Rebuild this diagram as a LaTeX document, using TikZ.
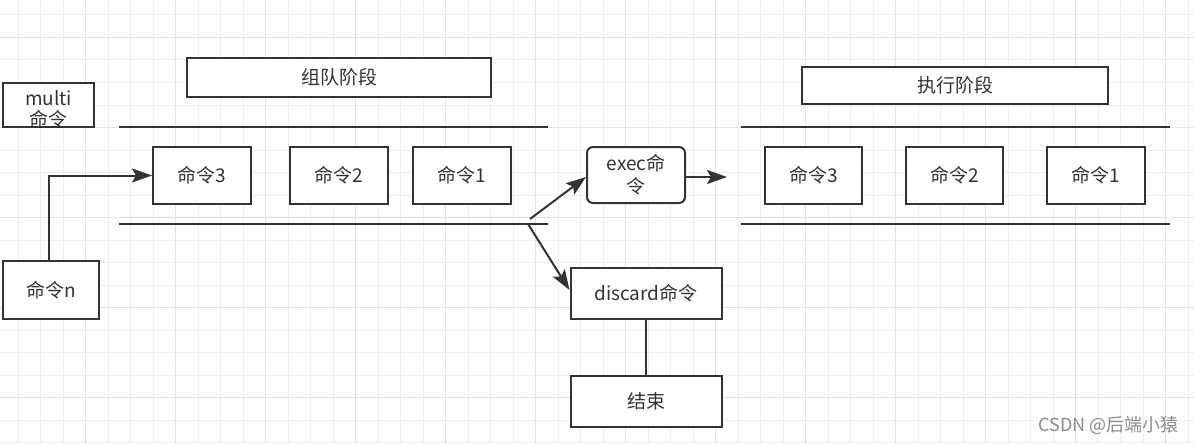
\documentclass[tikz,border=0pt]{standalone}
\usepackage{fontspec}
\setmainfont{Noto Sans CJK SC}
\usetikzlibrary{arrows.meta}
\definecolor{ink}{HTML}{333333}
\definecolor{gminor}{HTML}{F0F0F0}
\definecolor{gmajor}{HTML}{E3E3E3}
\definecolor{wm}{HTML}{8C8C8C}
\tikzset{
  gridminor/.style={draw=gminor, line width=1pt},
  gridmajor/.style={draw=gmajor, line width=1.3pt},
  box/.style={draw=ink, line width=2pt, fill=white, text=ink, inner sep=0pt, align=center, font=\fontsize{19}{22}\selectfont},
  rbox/.style={box, rounded corners=6pt},
  bar/.style={draw=ink, line width=2pt},
  arr/.style={draw=ink, line width=2pt, -{Stealth[length=20pt,width=14pt,inset=4pt]}},
  plain/.style={draw=ink, line width=2pt},
}
\begin{document}
\begin{tikzpicture}[x=1pt,y=-1pt]
\useasboundingbox (0,0) rectangle (1194,444);
\fill[white] (0,0) rectangle (1194,444);
% grid
\foreach \i in {0,...,54} { \draw[gridminor] ({-4.5+22.5*\i},0) -- ({-4.5+22.5*\i},444); }
\foreach \j in {0,...,20} { \draw[gridminor] (0,{-7.5+22.5*\j}) -- (1194,{-7.5+22.5*\j}); }
\foreach \i in {1,...,13} { \draw[gridmajor] ({-4.5+90*\i},0) -- ({-4.5+90*\i},444); }
\foreach \j in {0,...,4} { \draw[gridmajor] (0,{37.5+90*\j}) -- (1194,{37.5+90*\j}); }

% phase bars
\coordinate (lt1) at (119,127); \coordinate (lt2) at (548,127);
\coordinate (lb1) at (119,224); \coordinate (lb2) at (548,224);
\coordinate (rt1) at (741,127); \coordinate (rt2) at (1170,127);
\coordinate (rb1) at (741,224); \coordinate (rb2) at (1170,224);
\draw[bar] (lt1) -- (lt2);
\draw[bar] (lb1) -- (lb2);
\draw[bar] (rt1) -- (rt2);
\draw[bar] (rb1) -- (rb2);

% multi box: text is cut by the bottom edge as in the reference
\fill[white] (3,83) rectangle (94,127);
\begin{scope}
\clip (3,83) rectangle (94,127);
\node[text=ink, inner sep=0pt, align=center, font=\fontsize{19}{21}\selectfont] (multitxt) at (48.5,109) {multi\\命令};
\end{scope}
\node[draw=ink, line width=2pt, minimum width=91pt, minimum height=44pt, inner sep=0pt] (multi) at (48.5,105) {};

\node[box, minimum width=304pt, minimum height=39pt] (zd) at (339,77.5) {组队阶段};
\node[box, minimum width=306pt, minimum height=37pt] (zx) at (955,85.5) {执行阶段};

\node[box, minimum width=98pt, minimum height=57pt] (l3) at (202,175.5) {命令3};
\node[box, minimum width=98pt, minimum height=57pt] (l2) at (339,175.5) {命令2};
\node[box, minimum width=98pt, minimum height=57pt] (l1) at (462,175.5) {命令1};

\node[box, minimum width=96pt, minimum height=58pt] (cn) at (51,290) {命令n};

\node[rbox, minimum width=98pt, minimum height=56pt, font=\fontsize{19}{23}\selectfont] (exec) at (636,175) {exec命\\令};

\node[box, minimum width=97pt, minimum height=57pt] (r3) at (813.5,175.5) {命令3};
\node[box, minimum width=97pt, minimum height=57pt] (r2) at (954.5,175.5) {命令2};
\node[box, minimum width=98pt, minimum height=57pt] (r1) at (1096,175.5) {命令1};

\node[box, minimum width=151pt, minimum height=51pt] (disc) at (646,293.5) {discard命令};
\node[box, minimum width=151pt, minimum height=51pt] (end) at (646,401.5) {结束};

% connectors
\coordinate (s1) at (530,219);
\coordinate (s2) at (528,224);
\coordinate (execout) at (727,177);
\draw[arr] ([xshift=-2pt]cn.north) |- (l3.west);
\draw[arr] (s1) -- ([yshift=-2pt]exec.west);
\draw[arr] ([yshift=-2pt]exec.east) -- (execout);
\draw[arr] (s2) -- ([yshift=3.5pt]disc.west);
\draw[plain] (disc.south) -- (end.north);

% watermark
\node[text=wm, font=\fontsize{18}{18}\selectfont, inner sep=0pt, anchor=east] (wmk) at (1179,425) {CSDN @后端小猿};
\end{tikzpicture}
\end{document}
